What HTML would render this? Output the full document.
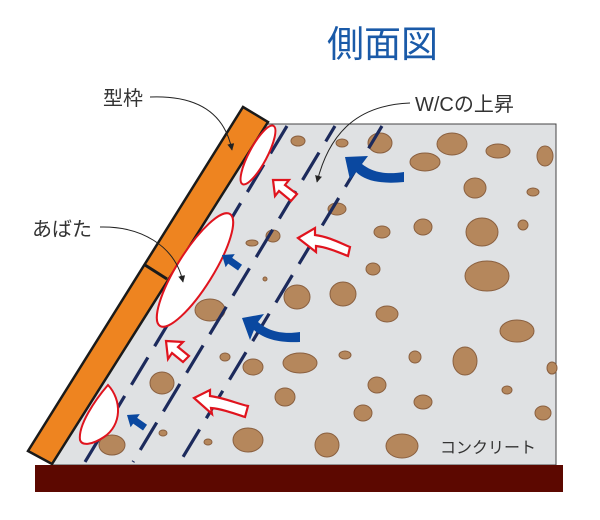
<!DOCTYPE html>
<html><head><meta charset="utf-8"><style>
html,body{margin:0;padding:0;background:#fff;}
svg{display:block;}
text{font-family:"Liberation Sans","Noto Sans CJK JP",sans-serif;}
</style></head><body>
<svg width="600" height="520" viewBox="0 0 600 520" xmlns="http://www.w3.org/2000/svg">
<defs>
<marker id="ah" viewBox="0 0 10 10" refX="9" refY="5" markerWidth="7" markerHeight="7" orient="auto"><path d="M0,0 L10,5 L0,10 z" fill="#222"/></marker>
</defs>
<polygon points="267,124 556,124 556,465 52,465" fill="#dfe1e3" stroke="#444" stroke-width="1"/>
<g fill="#b5875c" stroke="#8a6040" stroke-width="1">
<ellipse cx="298" cy="141" rx="7" ry="5"/>
<ellipse cx="342" cy="143" rx="6" ry="4"/>
<ellipse cx="380" cy="143" rx="12" ry="10"/>
<ellipse cx="452" cy="144" rx="15" ry="11"/>
<ellipse cx="498" cy="151" rx="12" ry="7"/>
<ellipse cx="545" cy="156" rx="8" ry="10"/>
<ellipse cx="425" cy="162" rx="15" ry="9"/>
<ellipse cx="475" cy="188" rx="11" ry="10"/>
<ellipse cx="533" cy="192" rx="6" ry="4"/>
<ellipse cx="337" cy="209" rx="9" ry="6"/>
<ellipse cx="382" cy="232" rx="8" ry="6"/>
<ellipse cx="423" cy="227" rx="9" ry="8"/>
<ellipse cx="482" cy="232" rx="16" ry="14"/>
<ellipse cx="523" cy="225" rx="5" ry="5"/>
<ellipse cx="273" cy="236" rx="7" ry="6"/>
<ellipse cx="252" cy="243" rx="6" ry="3"/>
<ellipse cx="265" cy="279" rx="2" ry="2"/>
<ellipse cx="373" cy="269" rx="7" ry="6"/>
<ellipse cx="487" cy="276" rx="22" ry="15"/>
<ellipse cx="297" cy="297" rx="13" ry="12"/>
<ellipse cx="343" cy="294" rx="13" ry="12"/>
<ellipse cx="210" cy="310" rx="15" ry="11"/>
<ellipse cx="387" cy="314" rx="11" ry="8"/>
<ellipse cx="517" cy="331" rx="17" ry="11"/>
<ellipse cx="225" cy="357" rx="5" ry="4"/>
<ellipse cx="253" cy="367" rx="10" ry="8"/>
<ellipse cx="300" cy="363" rx="17" ry="10"/>
<ellipse cx="345" cy="355" rx="6" ry="4"/>
<ellipse cx="415" cy="357" rx="6" ry="6"/>
<ellipse cx="465" cy="361" rx="12" ry="14"/>
<ellipse cx="552" cy="368" rx="5" ry="6"/>
<ellipse cx="162" cy="383" rx="12" ry="11"/>
<ellipse cx="377" cy="385" rx="9" ry="8"/>
<ellipse cx="285" cy="397" rx="10" ry="9"/>
<ellipse cx="507" cy="390" rx="5" ry="4"/>
<ellipse cx="423" cy="402" rx="9" ry="7"/>
<ellipse cx="363" cy="413" rx="9" ry="8"/>
<ellipse cx="543" cy="413" rx="8" ry="7"/>
<ellipse cx="163" cy="433" rx="4" ry="3"/>
<ellipse cx="208" cy="442" rx="4" ry="3"/>
<ellipse cx="248" cy="440" rx="15" ry="12"/>
<ellipse cx="327" cy="445" rx="12" ry="12"/>
<ellipse cx="402" cy="446" rx="16" ry="12"/>
<ellipse cx="112" cy="445" rx="13" ry="10"/>
</g>
<g stroke="#1c2a5c" stroke-width="3.2" stroke-dasharray="32,13" fill="none">
<line x1="287" y1="126" x2="85" y2="462"/>
<line x1="335" y1="126" x2="133" y2="462" stroke-dashoffset="14"/>
<line x1="382" y1="126" x2="180" y2="462" stroke-dashoffset="6"/>
</g>
<polygon points="243,107 268,122 52,464 28,451" fill="#ee8420" stroke="#1a1a1a" stroke-width="2.5"/>
<line x1="145" y1="265" x2="167" y2="279" stroke="#1a1a1a" stroke-width="3"/>
<g fill="#fff" stroke="#e0141e" stroke-width="2">
<ellipse cx="258" cy="155" rx="33" ry="9" transform="rotate(-62 258 155)"/>
<ellipse cx="195" cy="270" rx="66" ry="18" transform="rotate(-58 195 270)"/>
<path d="M108,385 C122,400 122,425 104,437 C92,445 82,446 80,440 C78,425 95,400 108,385 Z"/>
</g>
<g fill="#0a48a0">
<path d="M404,172 C385,175 372,172 362,164 L368,156 L345,157 L350,180 L356,172 C366,182 384,184 404,182 Z"/>
<path d="M300,332 C280,335 267,330 258,322 L264,314 L242,318 L250,340 L254,330 C265,340 282,343 300,342 Z"/>
<path d="M0,0 L10,-8 L10,-3.5 L22,-3.5 L22,3.5 L10,3.5 L10,8 Z" transform="translate(222,255) rotate(35)"/>
<path d="M0,0 L10,-8 L10,-3.5 L22,-3.5 L22,3.5 L10,3.5 L10,8 Z" transform="translate(127,415) rotate(35)"/>
</g>
<g fill="#fff" stroke="#e0141e" stroke-width="2.2">
<path d="M273,180 L289,180 L285,185 L297,194 L291,201 L279,191 L275,196 Z"/>
<path d="M298,238 L315,228 L315,235 C330,237 342,244 350,247 L348,256 C338,252 326,247 316,246 L316,252 Z"/>
<path d="M166,341 L183,342 L178,347 L189,356 L183,362 L172,353 L168,359 Z"/>
<path d="M194,398 L210,390 L210,396 C225,398 238,404 248,406 L245,417 C233,413 222,409 211,408 L212,414 Z"/>
</g>
<g fill="none" stroke="#222" stroke-width="1">
<path d="M150,97 C200,95 225,115 232,150" marker-end="url(#ah)"/>
<path d="M100,227 C140,226 175,245 183,282" marker-end="url(#ah)"/>
<path d="M410,103 C360,105 330,130 317,182" marker-end="url(#ah)"/>
</g>
<rect x="35" y="465" width="528" height="27" fill="#5c0800"/>
<text x="327" y="57" font-size="37" fill="#1a5aa8">側面図</text>
<text x="103" y="105" font-size="20" fill="#333">型枠</text>
<text x="32" y="236" font-size="20" fill="#333">あばた</text>
<text x="415" y="111" font-size="20" fill="#333">W/Cの上昇</text>
<text x="440" y="453" font-size="16" fill="#333">コンクリート</text>
</svg>
</body></html>
